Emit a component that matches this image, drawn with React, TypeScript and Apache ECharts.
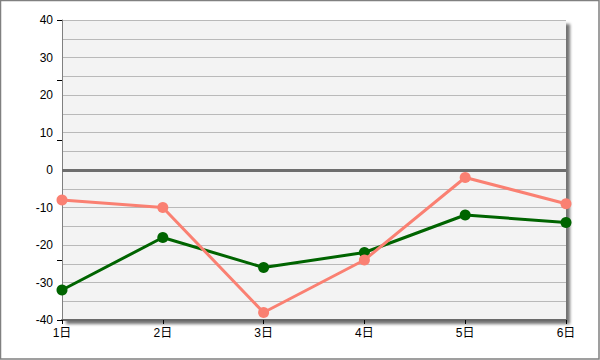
import React, { useEffect, useRef } from "react";
import * as echarts from "echarts";

const categories = ["1日", "2日", "3日", "4日", "5日", "6日"];
const greenValues = [-32, -18, -26, -22, -12, -14];
const salmonValues = [-8, -10, -38, -24, -2, -9];
const yMin = -40;
const yMax = 40;

export default function App() {
  const ref = useRef<HTMLDivElement>(null);
  useEffect(() => {
    if (!ref.current) return;
    const chart = echarts.init(ref.current, null, { renderer: "svg" });
    const font = "'Liberation Sans', Arial, 'Noto Sans CJK JP', sans-serif";
    chart.setOption({
      animation: false,
      backgroundColor: "#ffffff",
      graphic: [
        {
          type: "rect",
          shape: { x: 0.5, y: 0.5, width: 598.5, height: 358.5 },
          style: { fill: "none", stroke: "#808080", lineWidth: 1.5 },
          silent: true,
        },
      ],
      grid: {
        show: true,
        left: 62,
        top: 20,
        right: 34,
        bottom: 40,
        backgroundColor: "#f3f3f3",
        borderWidth: 0,
        shadowColor: "rgba(0,0,0,0.55)",
        shadowBlur: 3,
        shadowOffsetX: 4,
        shadowOffsetY: 4,
      },
      xAxis: {
        type: "category",
        data: categories,
        boundaryGap: false,
        axisLine: { onZero: false, lineStyle: { color: "#6a6a6a", width: 2 } },
        axisTick: { show: true, length: 4, lineStyle: { color: "#000000" } },
        axisLabel: { color: "#000000", fontSize: 12, fontFamily: font, margin: 7 },
        splitLine: { show: false },
      },
      yAxis: [
        {
          type: "value",
          min: yMin,
          max: yMax,
          interval: 10,
          axisLine: { show: true, lineStyle: { color: "#808080", width: 1 } },
          axisTick: { show: false },
          axisLabel: { color: "#000000", fontSize: 12, fontFamily: font, margin: 9 },
          splitLine: { show: true, lineStyle: { color: "#b9b9b9", width: 1 } },
          minorTick: { show: false, splitNumber: 2 },
          minorSplitLine: { show: true, lineStyle: { color: "#b9b9b9", width: 1 } },
        },
        {
          type: "value",
          min: yMin,
          max: yMax,
          interval: 16,
          position: "left",
          axisLine: { show: false },
          axisTick: { show: true, length: 5, lineStyle: { color: "#000000" } },
          axisLabel: { show: false },
          splitLine: { show: false },
        },
      ],
      series: [
        {
          type: "line",
          data: greenValues,
          yAxisIndex: 0,
          symbol: "circle",
          symbolSize: 11,
          lineStyle: { color: "#006400", width: 3 },
          itemStyle: { color: "#006400" },
          markLine: {
            silent: true,
            symbol: ["none", "none"],
            label: { show: false },
            lineStyle: { color: "#6e6e6e", width: 3, type: "solid" },
            data: [{ yAxis: 0 }],
          },
          z: 3,
        },
        {
          type: "line",
          data: salmonValues,
          yAxisIndex: 0,
          symbol: "circle",
          symbolSize: 11,
          lineStyle: { color: "#fa8072", width: 3 },
          itemStyle: { color: "#fa8072" },
          z: 4,
        },
      ],
    });
    return () => chart.dispose();
  }, []);
  return (
    <div
      ref={ref}
      style={{ position: "fixed", left: 0, top: 0, width: 600, height: 360 }}
    />
  );
}
